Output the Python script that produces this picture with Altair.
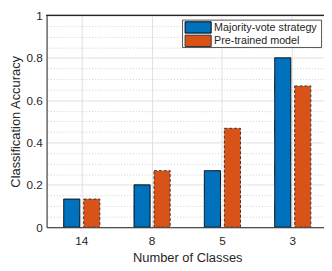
import altair as alt
import pandas as pd

classes = ["14", "8", "5", "3"]
series = ["Majority-vote strategy", "Pre-trained model"]
majority = [0.133, 0.200, 0.267, 0.800]
pretrained = [0.133, 0.267, 0.467, 0.667]
y_ticks = [0, 0.2, 0.4, 0.6, 0.8, 1]
y_minor = [0.05, 0.1, 0.15, 0.25, 0.3, 0.35, 0.45, 0.5, 0.55, 0.65, 0.7, 0.75, 0.85, 0.9, 0.95]

rows = []
for c, m, p in zip(classes, majority, pretrained):
    rows.append({"cls": c, "series": series[0], "value": m})
    rows.append({"cls": c, "series": series[1], "value": p})
df = pd.DataFrame(rows)
legend_df = pd.DataFrame({"series": series})

TXT = "#262626"
FONT = "Liberation Sans"

xscale = alt.Scale(range=[0, 288], paddingInner=0.486, paddingOuter=0.243)
yscale = alt.Scale(domain=[0, 1], nice=False)
color_enc = alt.Color("series:N", sort=series, legend=None,
                      scale=alt.Scale(domain=series, range=["#0072BD", "#D95319"]))
stroke_enc = alt.Stroke("series:N", sort=series, legend=None,
                        scale=alt.Scale(domain=series, range=["#000000", "#333333"]))
dash_enc = alt.StrokeDash("series:N", sort=series, legend=None,
                          scale=alt.Scale(domain=series, range=[[1, 0], [3, 2]]))

minor = alt.Chart(df).mark_bar(opacity=0).encode(
    y=alt.Y("value:Q", scale=yscale,
            axis=alt.Axis(orient="right", values=y_minor, grid=True, gridColor="#cfcfcf",
                          gridDash=[1, 2], gridWidth=1, labels=False, ticks=False,
                          domain=False, title=None)),
)

bars = alt.Chart(df).mark_bar(strokeWidth=1, clip=True).encode(
    x=alt.X("cls:N", sort=classes, scale=xscale,
            axis=alt.Axis(title="Number of Classes", labelAngle=0, grid=True, bandPosition=0.5,
                          gridColor="#dfdfdf", gridWidth=1, ticks=False, domainColor=TXT,
                          domainWidth=1, labelFontSize=12, labelColor=TXT, labelPadding=9,
                          titleFontSize=13.2, titleFontWeight="normal", titleColor=TXT,
                          titleX=144, titleY=35, titleBaseline="alphabetic")),
    xOffset=alt.XOffset("series:N", sort=series, scale=alt.Scale(paddingInner=0.195)),
    y=alt.Y("value:Q", scale=yscale,
            axis=alt.Axis(title="Classification Accuracy", values=y_ticks, format="~g",
                          grid=True, gridColor="#dfdfdf", gridWidth=1, ticks=False,
                          domainColor=TXT, domainWidth=1, labelFontSize=12, labelColor=TXT,
                          labelPadding=4.5, titleFontSize=13.2, titleFontWeight="normal",
                          titleColor=TXT, titleX=-28, titleBaseline="alphabetic")),
    color=color_enc, stroke=stroke_enc, strokeDash=dash_enc,
)

top = alt.Chart(df).mark_rule(color=TXT, strokeWidth=0.8).encode(
    x=alt.value(0), x2=alt.value(300), y=alt.value(0)
)

# legend (box, swatches, labels)
box = alt.Chart(legend_df).transform_filter(
    alt.datum.series == series[0]
).mark_rect(fill="white", stroke=TXT, strokeWidth=0.8).encode(
    x=alt.value(139.2), x2=alt.value(281.5), y=alt.value(4.8), y2=alt.value(32.8)
)

leg_layers = [box]
row_tops = [6.5, 20.2]
row_h = 11.6
for s, yt in zip(series, row_tops):
    base = alt.Chart(legend_df).transform_filter(alt.datum.series == s)
    leg_layers.append(base.mark_rect(strokeWidth=1).encode(
        x=alt.value(141.8), x2=alt.value(168.5), y=alt.value(yt), y2=alt.value(yt + row_h),
        color=color_enc, stroke=stroke_enc, strokeDash=dash_enc))
    leg_layers.append(base.mark_text(align="left", baseline="middle", fontSize=11,
                                     color=TXT, font=FONT).encode(
        x=alt.value(171.5), y=alt.value(yt + row_h / 2 + 0.3), text="series:N"))

chart = alt.layer(minor, bars, top, *leg_layers).resolve_axis(y="independent").properties(
    width=284, height=216.8,
    autosize=alt.AutoSizeParams(type="none"),
    padding={"left": 39.5, "top": 4.5, "right": 0, "bottom": 41.7},
).configure_view(stroke=None).configure(font=FONT)

chart.save("out.html", embed_options={"renderer": "svg", "actions": False})
